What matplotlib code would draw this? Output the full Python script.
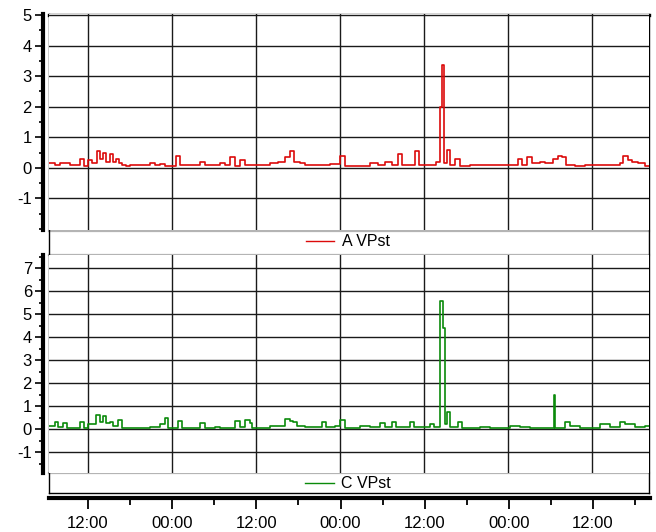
"""
two stacked VPst traces (A and C) over ~3.5 days, step style, with legend strips
and a shared time axis at the bottom
"""
import numpy as np
import pandas as pd
import matplotlib
matplotlib.use('Agg')
import matplotlib.pyplot as plt
import matplotlib.dates as mdates
from matplotlib.lines import Line2D
from matplotlib.ticker import MultipleLocator, AutoMinorLocator

plt.rcParams['font.family'] = ['Liberation Sans', 'DejaVu Sans']
plt.rcParams['axes.unicode_minus'] = False

START = pd.Timestamp('2021-03-01 06:26')
SPAN_HOURS = 85.7

# trace A, hours from start and step value
a_hours = [0.0, 0.86, 1.57, 3.0, 4.43, 5.0, 5.57, 6.14, 6.86, 7.29, 7.71, 8.14, 8.71, 9.14, 9.57, 10.0,
           10.43, 11.0, 11.57, 13.0, 14.43, 15.14, 15.86, 16.57, 18.14, 18.71, 21.57, 22.29, 24.43, 25.14,
           25.86, 26.57, 27.29, 28.0, 31.57, 32.71, 33.71, 34.43, 35.0, 35.86, 36.57, 37.57, 40.14, 41.57,
           42.29, 45.86, 47.0, 48.0, 49.0, 49.86, 50.43, 52.29, 52.86, 54.43, 55.29, 55.86, 56.07, 56.43,
           56.86, 57.29, 58.0, 58.71, 60.14, 63.0, 64.43, 67.0, 67.57, 68.29, 69.0, 70.14, 70.86, 72.0,
           72.71, 73.29, 73.86, 75.14, 76.57, 80.14, 81.57, 82.0, 82.71, 83.29, 84.14, 85.14]
a_values = [0.15, 0.1, 0.15, 0.1, 0.3, 0.05, 0.25, 0.15, 0.55, 0.3, 0.5, 0.2, 0.45, 0.2, 0.3, 0.15,
            0.1, 0.05, 0.08, 0.1, 0.15, 0.08, 0.12, 0.05, 0.4, 0.1, 0.2, 0.1, 0.15, 0.1,
            0.35, 0.05, 0.25, 0.1, 0.15, 0.2, 0.35, 0.55, 0.2, 0.15, 0.1, 0.08, 0.12, 0.4,
            0.05, 0.15, 0.1, 0.2, 0.1, 0.45, 0.1, 0.55, 0.1, 0.1, 0.2, 2.0, 3.35, 0.15,
            0.6, 0.1, 0.3, 0.05, 0.1, 0.08, 0.1, 0.3, 0.1, 0.35, 0.15, 0.2, 0.15, 0.3,
            0.4, 0.35, 0.1, 0.05, 0.1, 0.1, 0.15, 0.4, 0.25, 0.2, 0.15, 0.05]

# trace C
c_hours = [0.0, 0.86, 1.29, 2.0, 2.57, 4.43, 5.0, 5.57, 6.71, 7.29, 7.71, 8.14, 8.71, 9.14, 9.86, 10.43,
           13.0, 14.43, 15.86, 16.57, 17.0, 18.43, 19.0, 21.57, 22.29, 23.71, 24.43, 26.57, 27.29, 28.0,
           28.71, 29.0, 31.57, 33.71, 34.43, 34.86, 35.43, 36.57, 39.0, 39.57, 40.86, 41.57, 42.29, 44.43,
           45.86, 47.29, 48.0, 49.0, 49.57, 51.57, 52.14, 54.43, 55.0, 55.86, 56.21, 56.5, 56.86, 57.29,
           58.43, 59.0, 61.57, 63.0, 65.86, 67.29, 68.71, 72.14, 72.29, 73.71, 74.43, 75.86, 78.71, 80.14,
           81.57, 82.29, 83.71, 85.14]
c_values = [0.15, 0.3, 0.1, 0.25, 0.05, 0.3, 0.05, 0.2, 0.6, 0.3, 0.55, 0.25, 0.3, 0.15, 0.4, 0.05,
            0.05, 0.1, 0.2, 0.5, 0.05, 0.35, 0.05, 0.25, 0.05, 0.1, 0.05, 0.35, 0.1, 0.4,
            0.25, 0.05, 0.15, 0.45, 0.35, 0.3, 0.15, 0.1, 0.3, 0.1, 0.15, 0.4, 0.05, 0.15,
            0.1, 0.25, 0.1, 0.3, 0.1, 0.3, 0.1, 0.2, 0.1, 5.55, 4.4, 0.2, 0.75, 0.1,
            0.3, 0.05, 0.1, 0.05, 0.15, 0.1, 0.05, 1.5, 0.05, 0.3, 0.15, 0.05, 0.2, 0.1,
            0.3, 0.2, 0.1, 0.15]

RED = '#dc0a0a'
GREEN = '#0a8a0a'
GRAY = '#b4b4b4'
W, H = 656, 532


def to_time(hours):
    return START + pd.to_timedelta(np.asarray(hours, dtype=float), unit='h')


def fx(px):
    return px / W


def fy(py):
    return 1 - py / H


def panel(rect, hours, values, color, ylim, ytop):
    ax = fig.add_axes(rect)
    t = to_time(list(hours) + [SPAN_HOURS])
    v = list(values) + [values[-1]]
    ax.step(t, v, where='post', color=color, lw=1.2)
    ax.set_xlim(to_time([0.0])[0], to_time([SPAN_HOURS])[0])
    ax.set_ylim(*ylim)
    ax.yaxis.set_major_locator(MultipleLocator(1))
    ax.yaxis.set_minor_locator(AutoMinorLocator(2))
    ax.set_yticks(np.arange(-1, ytop + 1))
    ax.xaxis.set_major_locator(mdates.HourLocator(byhour=[0, 12]))
    ax.grid(True, which='major', color='#1a1a1a', lw=1.0)
    ax.tick_params(axis='x', bottom=False, labelbottom=False)
    ax.tick_params(axis='y', which='major', direction='out', length=6, width=1.2, labelsize=12, pad=2)
    ax.tick_params(axis='y', which='minor', direction='out', length=3, width=1.2)
    ax.spines['left'].set_position(('outward', 4.3))
    ax.spines['left'].set_linewidth(3.0)
    for s in ['right', 'top', 'bottom']:
        ax.spines[s].set_visible(False)
    return ax


fig = plt.figure(figsize=(W / 100, H / 100), dpi=100)

ax1 = panel([fx(49), fy(230), fx(600), (230 - 14) / H], a_hours, a_values, RED, (-2.03, 5.03), 5)
ax2 = panel([fx(49), fy(473), fx(600), (473 - 255) / H], c_hours, c_values, GREEN, (-1.91, 7.57), 7)

# frame and separators, in pixel coordinates
bg = fig.add_axes([0, 0, 1, 1], zorder=-1)
bg.set_xlim(0, W), bg.set_ylim(H, 0), bg.axis('off')
for y in [231, 255, 473]:
    bg.plot([49, 649], [y, y], color=GRAY, lw=1.6)
bg.plot([49, 49], [14, 493], color='black', lw=1.0)
bg.plot([649, 649], [14, 493], color='black', lw=1.0)
bg.plot([49, 649], [493, 493], color='black', lw=1.0)
bg.plot([49, 649], [14.5, 14.5], color='black', lw=2.4)

# legends in the strips below each panel
for ax, color, label, y in [(ax1, RED, 'A VPst', 242), (ax2, GREEN, 'C VPst', 484)]:
    handle = Line2D([], [], color=color, lw=1.0)
    fig.legend([handle], [label], loc='center', bbox_to_anchor=(fx(348), fy(y)), frameon=False,
               fontsize=11.5, handlelength=1.8, handletextpad=0.5, borderpad=0)

# shared time axis
ax3 = fig.add_axes([fx(49), fy(498), fx(601), 0.0001])
ax3.set_xlim(to_time([0.0])[0], to_time([SPAN_HOURS])[0])
ax3.set_yticks([])
for s in ['left', 'right', 'top']:
    ax3.spines[s].set_visible(False)
ax3.spines['bottom'].set_linewidth(3.0)
ax3.xaxis.set_major_locator(mdates.HourLocator(byhour=[0, 12]))
ax3.xaxis.set_minor_locator(mdates.HourLocator(byhour=[6, 18]))
ax3.xaxis.set_major_formatter(mdates.DateFormatter('%H:%M'))
ax3.tick_params(axis='x', which='major', direction='out', length=8, width=1.3, labelsize=12, pad=5)
ax3.tick_params(axis='x', which='minor', direction='out', length=5, width=1.3)

fig.savefig('out.png', dpi=100)
